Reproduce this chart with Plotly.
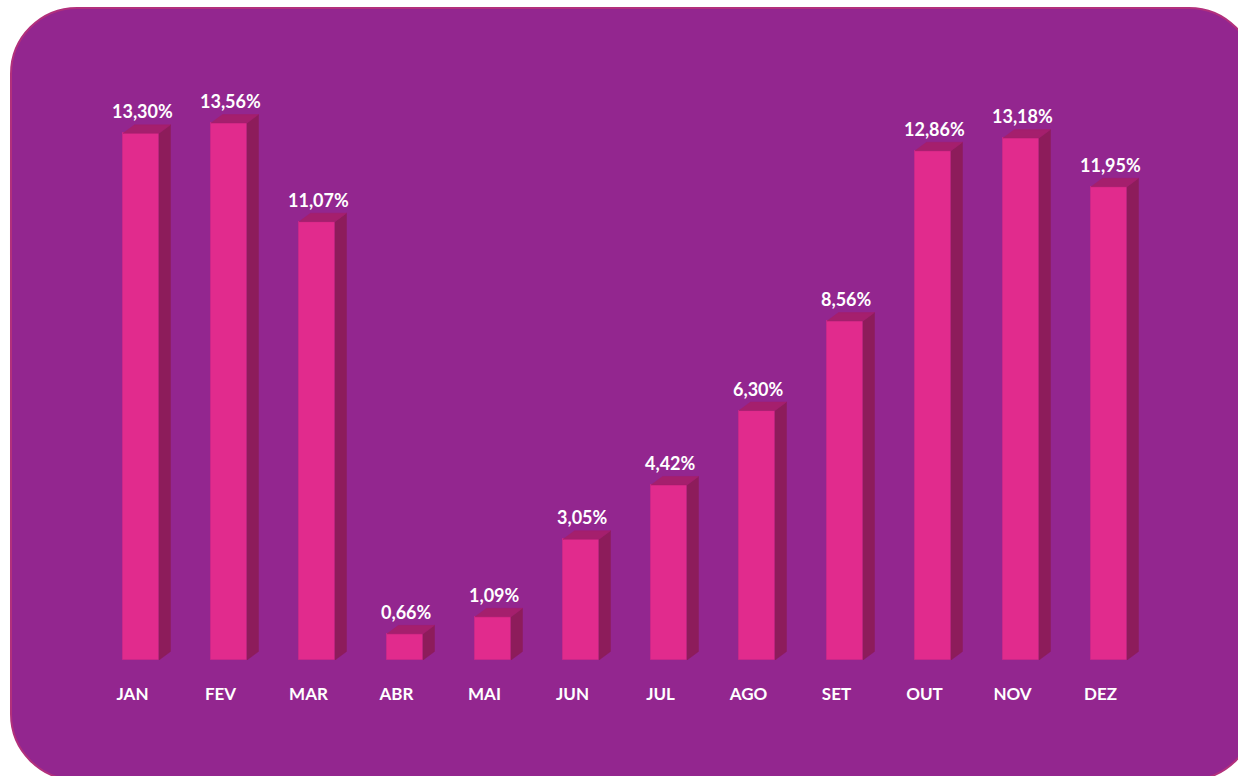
import plotly.graph_objects as go

# ---- data ----
months = ["JAN", "FEV", "MAR", "ABR", "MAI", "JUN", "JUL", "AGO", "SET", "OUT", "NOV", "DEZ"]
values = [13.30, 13.56, 11.07, 0.66, 1.09, 3.05, 4.42, 6.30, 8.56, 12.86, 13.18, 11.95]
labels = ["13,30%", "13,56%", "11,07%", "0,66%", "1,09%", "3,05%", "4,42%", "6,30%",
          "8,56%", "12,86%", "13,18%", "11,95%"]

# ---- geometry / style ----
W, H = 1238, 776
ML, MR, MT, MB = 36, 14, 66, 116
PX_CAT = 88.0          # pixels per category
Y_MAX = 15.0
plotW = W - ML - MR
plotH = H - MT - MB
PX_VAL = plotH / Y_MAX

x0_range = -(141 - ML) / PX_CAT
x1_range = x0_range + plotW / PX_CAT

BAR_W = 36 / PX_CAT
DX = 11.5 / PX_CAT
DY = 8.5 / PX_VAL

FRONT = "#E12B8D"
SIDE = "#8D1C5B"
TOP = "#A51F6D"
BG = "#93268F"
BORDER = "#B2307C"
FONT = "Lato"

xs = list(range(len(months)))

fig = go.Figure()

# side faces
sx, sy = [], []
for x, v in zip(xs, values):
    r = x + BAR_W / 2
    sx += [r, r + DX, r + DX, r, r, None]
    sy += [0, DY, v + DY, v, 0, None]
fig.add_trace(go.Scatter(x=sx, y=sy, fill="toself", fillcolor=SIDE, mode="lines",
                         line=dict(width=0.5, color=SIDE), hoverinfo="skip", showlegend=False))
# top faces
tx, ty = [], []
for x, v in zip(xs, values):
    l = x - BAR_W / 2
    r = x + BAR_W / 2
    tx += [l, r, r + DX, l + DX, l, None]
    ty += [v, v, v + DY, v + DY, v, None]
fig.add_trace(go.Scatter(x=tx, y=ty, fill="toself", fillcolor=TOP, mode="lines",
                         line=dict(width=0.5, color=TOP), hoverinfo="skip", showlegend=False))
# front faces
fig.add_trace(go.Bar(x=xs, y=values, width=BAR_W, marker=dict(color=FRONT, line=dict(color="#C9278A", width=1)),
                     showlegend=False, hoverinfo="skip"))

# value labels
for x, v, t in zip(xs, values, labels):
    fig.add_annotation(x=x + 1 / PX_CAT, y=v, text="<b>%s</b>" % t, showarrow=False,
                       yanchor="middle", yshift=22,
                       font=dict(family=FONT, size=18, color="white"))

# background rounded rectangle (page pixel -> paper)
def px(p):
    return (p - ML) / plotW
def py(p):
    return (H - MB - p) / plotH

bx0, by0, bx1, by1, rad = 11, 8, 1255, 780, 66
k = 0.5523 * rad
path = (
    f"M {px(bx0+rad)} {py(by0)} L {px(bx1-rad)} {py(by0)} "
    f"C {px(bx1-rad+k)} {py(by0)} {px(bx1)} {py(by0+rad-k)} {px(bx1)} {py(by0+rad)} "
    f"L {px(bx1)} {py(by1-rad)} "
    f"C {px(bx1)} {py(by1-rad+k)} {px(bx1-rad+k)} {py(by1)} {px(bx1-rad)} {py(by1)} "
    f"L {px(bx0+rad)} {py(by1)} "
    f"C {px(bx0+rad-k)} {py(by1)} {px(bx0)} {py(by1-rad+k)} {px(bx0)} {py(by1-rad)} "
    f"L {px(bx0)} {py(by0+rad)} "
    f"C {px(bx0)} {py(by0+rad-k)} {px(bx0+rad-k)} {py(by0)} {px(bx0+rad)} {py(by0)} Z"
)
fig.add_shape(type="path", path=path, xref="paper", yref="paper", layer="below",
              fillcolor=BG, line=dict(color=BORDER, width=2))

fig.update_layout(
    width=W, height=H,
    margin=dict(l=ML, r=MR, t=MT, b=MB, pad=0),
    paper_bgcolor="white", plot_bgcolor="rgba(0,0,0,0)",
    xaxis=dict(range=[x0_range, x1_range], showgrid=False, zeroline=False, showline=False,
               tickvals=[x - 8.5 / PX_CAT for x in xs], ticktext=["<b>%s</b>" % m for m in months],
               ticks="", ticklabelstandoff=22, fixedrange=True,
               tickfont=dict(family=FONT, size=17, color="white")),
    yaxis=dict(range=[0, Y_MAX], showgrid=False, zeroline=False, showline=False,
               showticklabels=False, fixedrange=True),
    bargap=0,
)

fig.write_html("out.html", config={"displayModeBar": False},
               post_script="document.body.style.margin='0px';document.body.style.overflow='hidden';")
